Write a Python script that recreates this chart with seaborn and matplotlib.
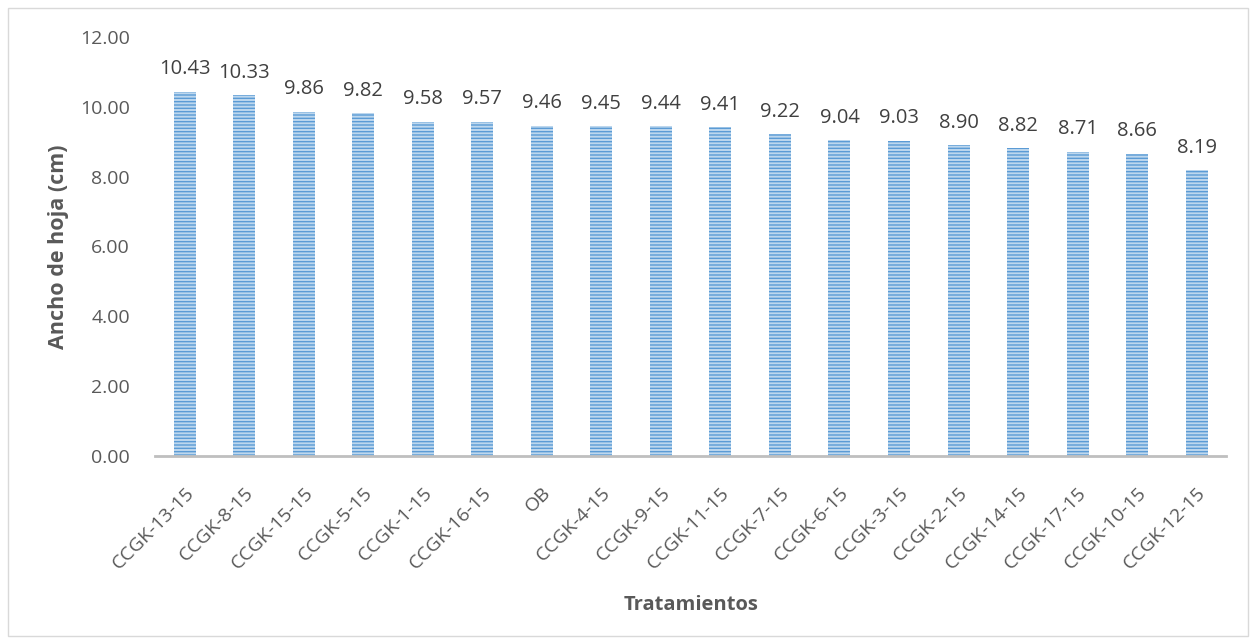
import matplotlib
matplotlib.use("Agg")
import matplotlib.pyplot as plt
import seaborn as sns
import pandas as pd
from matplotlib.patches import Rectangle

tratamientos = ["CCGK-13-15", "CCGK-8-15", "CCGK-15-15", "CCGK-5-15", "CCGK-1-15",
                "CCGK-16-15", "OB", "CCGK-4-15", "CCGK-9-15", "CCGK-11-15",
                "CCGK-7-15", "CCGK-6-15", "CCGK-3-15", "CCGK-2-15", "CCGK-14-15",
                "CCGK-17-15", "CCGK-10-15", "CCGK-12-15"]
ancho = [10.43, 10.33, 9.86, 9.82, 9.58, 9.57, 9.46, 9.45, 9.44, 9.41,
         9.22, 9.04, 9.03, 8.90, 8.82, 8.71, 8.66, 8.19]
yticks = [0, 2, 4, 6, 8, 10, 12]

sns.set_theme(style="white")
plt.rcParams['font.family'] = ['Open Sans', 'DejaVu Sans']
plt.rcParams['hatch.linewidth'] = 1.0

df = pd.DataFrame({"Tratamientos": tratamientos, "Ancho": ancho})

fig = plt.figure(figsize=(12.56, 6.44), dpi=100)
ax = fig.add_axes([0.1234, 0.292, 0.853, 0.6505])

sns.barplot(data=df, x="Tratamientos", y="Ancho", ax=ax, width=0.37,
            color="#BDD7EE", saturation=1)
for p in ax.patches:
    p.set_facecolor("#BDD7EE")
    p.set_edgecolor("#5B9BD5")
    p.set_hatch("-----")
    p.set_linewidth(0)

ax.bar_label(ax.containers[0], labels=[f"{v:.2f}" for v in ancho],
             padding=9, fontsize=14.5, color="#404040")

ax.set_ylim(0, 12)
ax.set_xlim(-0.5, len(tratamientos) - 0.5)
ax.set_yticks(yticks)
ax.set_yticklabels([f"{v:.2f}" for v in yticks], fontsize=14, color="#595959")
ax.set_xticks(range(len(tratamientos)))
ax.set_xticklabels(tratamientos, rotation=45, ha="right", rotation_mode="anchor",
                   fontsize=14, color="#595959")
ax.tick_params(axis="y", length=0, pad=18)
ax.tick_params(axis="x", length=0, pad=20)

ax.set_ylabel("Ancho de hoja (cm)", fontsize=15.5, fontweight="bold", color="#595959", labelpad=8)
ax.set_xlabel("Tratamientos", fontsize=14.5, fontweight="bold", color="#595959", labelpad=16)

for s in ["top", "right", "left"]:
    ax.spines[s].set_visible(False)
ax.spines["bottom"].set_color("#BFBFBF")
ax.spines["bottom"].set_linewidth(2)

fig.patches.append(Rectangle((0.006, 0.012), 0.988, 0.976, transform=fig.transFigure,
                             fill=False, edgecolor="#D9D9D9", linewidth=1))

fig.savefig("out.png", dpi=100)
